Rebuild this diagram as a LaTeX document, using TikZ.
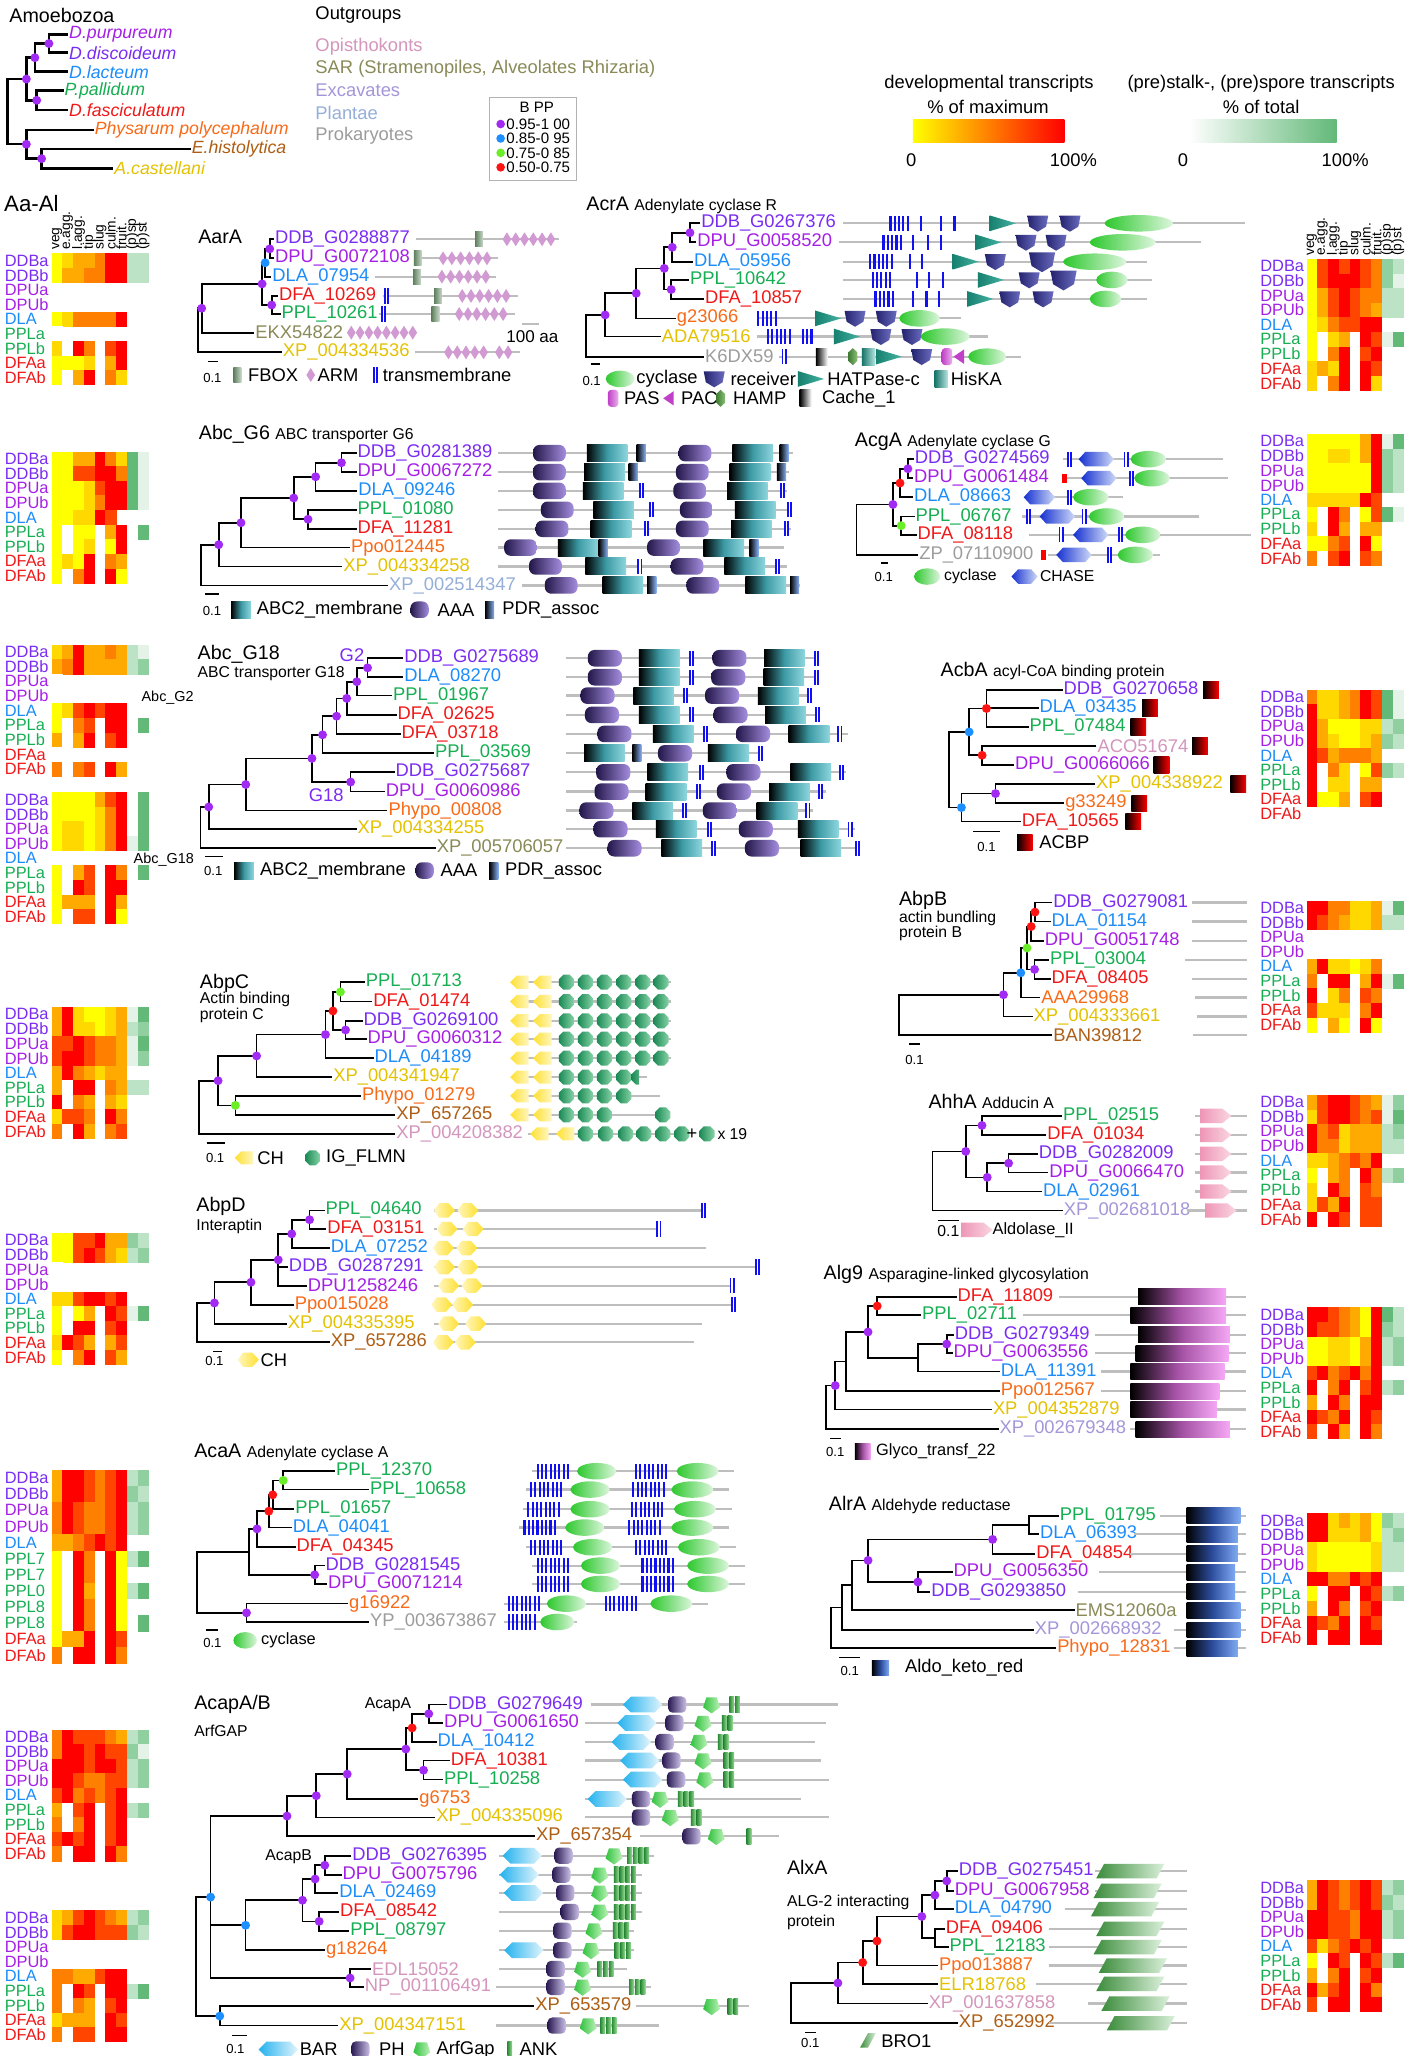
\documentclass[tikz,border=0pt]{standalone}
\usepackage{fontspec}
\setmainfont{Liberation Sans}
\usetikzlibrary{positioning}

% taxon colours
\definecolor{cDDB}{HTML}{7B2CF2}
\definecolor{cDPU}{HTML}{A51FE6}
\definecolor{cDLA}{HTML}{1C8CFA}
\definecolor{cPPL}{HTML}{16AE52}
\definecolor{cDFA}{HTML}{F01818}
\definecolor{cPPO}{HTML}{F86A18}
\definecolor{cEHI}{HTML}{AE5E14}
\definecolor{cACA}{HTML}{E4C200}
\definecolor{cOPI}{HTML}{D496BC}
\definecolor{cSAR}{HTML}{8A8A58}
\definecolor{cEXC}{HTML}{A496D8}
\definecolor{cPLA}{HTML}{95AFD8}
\definecolor{cPRO}{HTML}{9C9C9C}
% support dots
\definecolor{dP}{HTML}{A22BF4}
\definecolor{dB}{HTML}{1E8FFF}
\definecolor{dG}{HTML}{6AEE28}
\definecolor{dR}{HTML}{FF1414}
% heat map
\definecolor{hY}{HTML}{FFFF00}
\definecolor{hG}{HTML}{FFD800}
\definecolor{hA}{HTML}{FFAA00}
\definecolor{hO}{HTML}{FF7F00}
\definecolor{hD}{HTML}{FF4500}
\definecolor{hR}{HTML}{FF0000}
\definecolor{hN}{HTML}{FFFFFF}
\definecolor{gA}{HTML}{62B978}
\definecolor{gB}{HTML}{8FCFA0}
\definecolor{gC}{HTML}{BCE3C6}
\definecolor{gD}{HTML}{E4F2E7}
% domains
\definecolor{bkgray}{HTML}{BEBEBE}
\definecolor{tmb}{HTML}{1010F0}
\definecolor{fbL}{HTML}{5E7E5E}
\definecolor{fbR}{HTML}{C8D8C8}
\definecolor{armc}{HTML}{D29AD2}
\definecolor{cycL}{HTML}{2CC82C}
\definecolor{cycR}{HTML}{DDF6DD}
\definecolor{recL}{HTML}{22226E}
\definecolor{recR}{HTML}{6C6CC0}
\definecolor{hatL}{HTML}{17806F}
\definecolor{hatR}{HTML}{45B3A3}
\definecolor{hisL}{HTML}{167468}
\definecolor{hisR}{HTML}{B5E3E0}
\definecolor{pasL}{HTML}{C040C8}
\definecolor{pasR}{HTML}{EBB0EB}
\definecolor{hampL}{HTML}{3E7A30}
\definecolor{hampR}{HTML}{8CC07C}
\definecolor{abcM}{HTML}{3C9AA4}
\definecolor{abcR}{HTML}{8ED6DE}
\definecolor{aaaL}{HTML}{221648}
\definecolor{aaaR}{HTML}{A58EE0}
\definecolor{pdrR}{HTML}{8AB4F8}
\definecolor{chL}{HTML}{1530D0}
\definecolor{chR}{HTML}{D0DBF8}
\definecolor{chyL}{HTML}{FFE030}
\definecolor{chyR}{HTML}{FFF6BE}
\definecolor{igL}{HTML}{1B8A55}
\definecolor{igR}{HTML}{86D2A6}
\definecolor{aldL}{HTML}{EE96B6}
\definecolor{aldR}{HTML}{FAD6E2}
\definecolor{glyM}{HTML}{A653A6}
\definecolor{glyR}{HTML}{F5A8F5}
\definecolor{akrM}{HTML}{2C4C9C}
\definecolor{akrR}{HTML}{80AAF4}
\definecolor{barL}{HTML}{25B2EE}
\definecolor{barR}{HTML}{E2F5FD}
\definecolor{phL}{HTML}{291952}
\definecolor{phR}{HTML}{CBC0E8}
\definecolor{arfL}{HTML}{30C23E}
\definecolor{arfR}{HTML}{BDF2B8}
\definecolor{ankL}{HTML}{2C8A38}
\definecolor{ankR}{HTML}{92DA92}
\definecolor{broL}{HTML}{3C8C3C}
\definecolor{broR}{HTML}{DAF0DA}

\tikzset{
  tr/.style={line width=1.3pt},
  bk/.style={draw=bkgray,line width=1.7pt},
  lf/.style={anchor=west,inner sep=0.6pt,font=\fontsize{14}{16}\selectfont},
  sp/.style={anchor=west,inner sep=0.6pt,font=\fontsize{13.5}{15}\selectfont\itshape},
  ttl/.style={anchor=west,inner sep=0pt,font=\fontsize{15}{17}\selectfont},
  sub/.style={anchor=west,inner sep=0pt,font=\fontsize{12}{14}\selectfont},
  hl/.style={anchor=west,inner sep=0pt,font=\fontsize{12.5}{14}\selectfont},
  hh/.style={rotate=90,anchor=west,inner sep=0.3pt,font=\fontsize{10.5}{11}\selectfont},
  sc/.style={inner sep=0pt,font=\fontsize{10}{11}\selectfont},
  lg/.style={anchor=west,inner sep=0pt,font=\fontsize{14}{16}\selectfont},
}

% support value dot
\newcommand{\bpp}[2]{\fill[#1] (#2) circle (3.4);}
% heat map: x, y top, row height, rows
\newcommand{\hmapH}[4]{%
  \foreach \rw [count=\j] in {#4} {%
    \foreach \cc [count=\i] in \rw {%
      \fill[\cc] ({#1+(\i-1)*8.2},{#2+(\j-1)*#3}) rectangle ++(8.5,#3+0.3);%
    }%
  }%
}
\newcommand{\hmap}[3]{\hmapH{#1}{#2}{11.15}{#3}}
\newcommand{\hlab}[3]{%
  \foreach \n/\cl [count=\j] in {DDBa/cDDB,DDBb/cDDB,DPUa/cDPU,DPUb/cDPU,DLA/cDLA,PPLa/cPPL,PPLb/cPPL,DFAa/cDFA,DFAb/cDFA}
    \node[hl,text=\cl] (#3\j) at (#1,{#2+(\j-0.5)*11.15}) {\n};
}
\newcommand{\hhead}[3]{%
  \foreach \h [count=\i] in {veg,e.agg.,l.agg.,tip,slug,culm.,fruit.,(p)sp,(p)st}
    \node[hh] (#3\i) at ({#1+(\i-0.5)*8.2},#2) {\h};
}
% domain glyphs
\newcommand{\dTM}[2]{\fill[tmb] ({#1-1.9},{#2-5.8}) rectangle ({#1+1.9},{#2+5.8}); \fill[white] ({#1-0.5},{#2-5.8}) rectangle ({#1+0.5},{#2+5.8});}
\newcommand{\dTb}[2]{\fill[tmb] ({#1-0.8},{#2-5.8}) rectangle ({#1+0.8},{#2+5.8});}
\newcommand{\tmcl}[3]{\foreach \k in {1,...,#2} {\dTb{#1+3.3*\k-3.3}{#3}}}
\newcommand{\dFB}[2]{\shade[left color=fbL,right color=fbR] ({#1-3},{#2-5.8}) rectangle ({#1+3},{#2+5.8});}
\newcommand{\dARM}[2]{\fill[armc,shift={(#1,#2)}] (-3.3,0) -- (0,-5.3) -- (3.3,0) -- (0,5.3) -- cycle;}
\newcommand{\armrow}[3]{\foreach \k in {1,...,#2} {\dARM{#1+6.7*\k-6.7}{#3}}}
\newcommand{\dCYC}[3]{\shade[left color=cycL,right color=cycR] (#1,#2) ellipse [x radius={#3/2},y radius=6.3];}
\newcommand{\dREC}[3]{\shade[left color=recL,right color=recR,shift={(#1,#2)},scale=#3] (-0.5,-0.36) -- (0.5,-0.36) -- (0.4,0.16) -- (0,0.4) -- (-0.4,0.16) -- cycle;}
\newcommand{\dHAT}[2]{\shade[left color=hatL,right color=hatR,shift={(#1,#2)}] (-10,-6) -- (10,0) -- (-10,6) -- cycle;}
\newcommand{\dHIS}[2]{\shade[left color=hisL,right color=hisR] ({#1-5},{#2-6.5}) rectangle ({#1+5},{#2+6.5});}
\newcommand{\dPAS}[2]{\shade[left color=pasL,right color=pasR,rounded corners=2.5pt] ({#1-4},{#2-6.5}) rectangle ({#1+4},{#2+6.5});}
\newcommand{\dPAC}[2]{\fill[pasL,shift={(#1,#2)}] (4,-5.5) -- (-4,0) -- (4,5.5) -- cycle;}
\newcommand{\dHAMP}[2]{\shade[left color=hampL,right color=hampR,shift={(#1,#2)}] (0,-6.5) -- (3.5,-3.2) -- (3.5,3.2) -- (0,6.5) -- (-3.5,3.2) -- (-3.5,-3.2) -- cycle;}
\newcommand{\dCAC}[2]{\shade[left color=black,right color=white] ({#1-4.5},{#2-6.5}) rectangle ({#1+4.5},{#2+6.5});}
\newcommand{\dABC}[3]{\shade[left color=black,right color=abcR,middle color=abcM] ({#1-#3/2},{#2-6.5}) rectangle ({#1+#3/2},{#2+6.5});}
\newcommand{\dAAA}[3]{\shade[left color=aaaL,right color=aaaR,rounded corners=5pt] ({#1-#3/2},{#2-6.3}) rectangle ({#1+#3/2},{#2+6.3});}
\newcommand{\dPDR}[2]{\shade[left color=black,right color=pdrR] ({#1-3.5},{#2-6.5}) rectangle ({#1+3.5},{#2+6.5});}
\newcommand{\dCHASE}[3]{\shade[left color=chL,right color=chR,shift={(#1,#2)}] ({-#3/2},0) -- ({-#3/2+5},-5.5) -- ({#3/2-5},-5.5) -- ({#3/2},0) -- ({#3/2-5},5.5) -- ({-#3/2+5},5.5) -- cycle;}
\newcommand{\dACBP}[2]{\shade[left color=black,right color=red] ({#1-6},{#2-6.3}) rectangle ({#1+6},{#2+6.3});}
\newcommand{\dCHl}[2]{\shade[left color=chyL,right color=chyR,shift={(#1,#2)}] (-7,0) -- (-2,-5) -- (7,-5) -- (7,5) -- (-2,5) -- cycle;}
\newcommand{\dCHr}[2]{\shade[left color=chyR,right color=chyL,shift={(#1,#2)}] (-8,0) -- (-4,-5.5) -- (3,-5.5) -- (8,0) -- (3,5.5) -- (-4,5.5) -- cycle;}
\newcommand{\dIG}[2]{\shade[left color=igL,right color=igR,shift={(#1,#2)},scale=0.88] (6.5,2.7) -- (2.7,6.5) -- (-2.7,6.5) -- (-6.5,2.7) -- (-6.5,-2.7) -- (-2.7,-6.5) -- (2.7,-6.5) -- (6.5,-2.7) -- cycle;}
\newcommand{\dALD}[2]{\shade[left color=aldL,right color=aldR,shift={(#1,#2)}] (-12,-5.5) -- (5,-5.5) -- (12,0) -- (5,5.5) -- (-12,5.5) -- cycle;}
\newcommand{\dGLY}[3]{\shade[left color=black,right color=glyR,middle color=glyM] (#1,{#3-6}) rectangle (#2,{#3+6});}
\newcommand{\dAKR}[3]{\shade[left color=black,right color=akrR,middle color=akrM] (#1,{#3-6}) rectangle (#2,{#3+6});}
\newcommand{\dBAR}[2]{\shade[left color=barL,right color=barR,shift={(#1,#2)}] (-15,0) -- (-9,-6) -- (9,-6) -- (15,0) -- (9,6) -- (-9,6) -- cycle;}
\newcommand{\dPH}[2]{\shade[left color=phL,right color=phR,rounded corners=3.5pt] ({#1-7},{#2-6.2}) rectangle ({#1+7},{#2+6.2});}
\newcommand{\dARF}[2]{\shade[left color=arfL,right color=arfR,shift={(#1,#2)},scale=0.75] (0,9) -- (8.6,2.8) -- (5.3,-7.3) -- (-5.3,-7.3) -- (-8.6,2.8) -- cycle;}
\newcommand{\dANK}[2]{\shade[left color=ankL,right color=ankR] ({#1-1.8},{#2-6}) rectangle ({#1+1.8},{#2+6});}
\newcommand{\dBRO}[3]{\shade[left color=broL,right color=broR,shift={(#1,#2)}] ({-#3/2},5.5) -- ({-#3/2+6},-5.5) -- ({#3/2},-5.5) -- ({#3/2-6},5.5) -- cycle;}

\begin{document}
\begin{tikzpicture}[x=1pt,y=-1pt]
  \fill[white] (0,0) rectangle (1085,1568);
  \useasboundingbox (0,0) rectangle (1085,1568);

  % ---------- species tree ----------
  \node[ttl] (amoe) at (7,12) {Amoebozoa};
  \node[sp,text=cDPU] (spc1) at (52,26.2) {D.purpureum};
  \node[sp,text=cDDB] (spc2) at (52,40.2) {D.discoideum};
  \node[sp,text=cDLA] (spc3) at (52,54.7) {D.lacteum};
  \node[sp,text=cPPL] (spc4) at (48.5,69.1) {P.pallidum};
  \node[sp,text=cDFA] (spc5) at (52,83.9) {D.fasciculatum};
  \node[sp,text=cPPO] (spc6) at (71.5,99.1) {Physarum polycephalum};
  \node[sp,text=cEHI] (spc7) at (145.5,113.6) {E.histolytica};
  \node[sp,text=cACA] (spc8) at (86.5,128.4) {A.castellani};
  \coordinate (spcA) at (37.3,33.2);
  \coordinate (spcB) at (26.6,44);
  \coordinate (spcC) at (28,76.5);
  \coordinate (spcD) at (20.1,60.3);
  \coordinate (spcE) at (31.7,121);
  \coordinate (spcF) at (20.1,110);
  \coordinate (spcR) at (5.6,85.2);
  \begin{scope}[line width=1.9pt]
    \draw (spc1.west) -| (spcA) |- (spc2.west);
    \draw (spcA) -| (spcB) |- (spc3.west);
    \draw (spc4.west) -| (spcC) |- (spc5.west);
    \draw (spcB) -| (spcD) |- (spcC);
    \draw (spc7.west) -| (spcE) |- (spc8.west);
    \draw (spc6.west) -| (spcF) |- (spcE);
    \draw (spcD) -| (spcR) |- (spcF);
  \end{scope}
  \foreach \p in {spcA,spcB,spcC,spcD,spcE,spcF} {\bpp{dP}{\p}}

  \node[lg] (outg) at (240.4,11.4) {Outgroups};
  \node[lg,text=cOPI] (outO) at (240.4,35.6) {Opisthokonts};
  \node[lg,text=cSAR] (outS) at (240.4,52.1) {SAR (Stramenopiles, Alveolates Rhizaria)};
  \node[lg,text=cEXC] (outE) at (240.4,69.1) {Excavates};
  \node[lg,text=cPLA] (outP) at (240.4,85.9) {Plantae};
  \node[lg,text=cPRO] (outK) at (240.4,103.5) {Prokaryotes};

  \draw[gray!60,line width=0.8pt] (373.4,74.2) rectangle (439.7,137.3);
  \node[sc,font=\fontsize{11.5}{12}\selectfont] (bppT) at (409.4,81.9) {B PP};
  \foreach \cl/\tx/\yy [count=\i] in {dP/0.95-1 00/94.6,dB/0.85-0 95/105.6,dG/0.75-0 85/116.6,dR/0.50-0.75/127.6} {
    \fill[\cl] (381.8,\yy) circle (3.3);
    \node[lg,font=\fontsize{11.5}{12}\selectfont] (bpp\i) at (386,\yy) {\tx};
  }

  % colour bars
  \node[lg,anchor=center] (devT) at (754.3,63.5) {developmental transcripts};
  \node[lg,anchor=center] (devS) at (753.5,81.3) {\% of maximum};
  \shade[left color=yellow,right color=red,middle color=orange] (696.2,91) rectangle (811.8,108.8);
  \node[lg,anchor=center] (dev0) at (694.9,122) {0};
  \node[lg,anchor=center] (dev1) at (818.6,122) {100\%};
  \node[lg,anchor=center] (cllT) at (961.8,63.5) {(pre)stalk-, (pre)spore transcripts};
  \node[lg,anchor=center] (cllS) at (961.8,81.3) {\% of total};
  \shade[left color=white,right color=gA] (906.2,91) rectangle (1019.3,108.8);
  \node[lg,anchor=center] (cll0) at (902.1,122) {0};
  \node[lg,anchor=center] (cll1) at (1025.9,122) {100\%};

  \node[ttl,font=\fontsize{17}{19}\selectfont] (aaal) at (3,155) {Aa-Al};

  % ---------- left heat maps ----------
  \hhead{39.4}{191}{hdL}
  \hlab{3.5}{193.2}{hmA}
  \hmap{39.4}{193.2}{{hY,hG,hA,hA,hO,hR,hR,gC,gC},{hY,hA,hA,hO,hO,hR,hR,gC,gC},{hN},{hN},{hY,hG,hO,hO,hO,hO,hR},{hN},{hG,hN,hR,hO,hN,hD,hR},{hY,hY,hY,hG,hN,hA,hR},{hY,hN,hA,hR,hN,hO,hG}}
  \hlab{3.5}{344.4}{hmB}
  \hmap{39.4}{344.4}{{hY,hY,hA,hA,hR,hO,hG,gA,gD},{hY,hY,hD,hD,hR,hR,hO,gA,gD},{hY,hY,hY,hG,hD,hR,hR,gA,gD},{hY,hY,hY,hG,hO,hR,hR,gA,gD},{hY,hY,hG,hG,hR,hD},{hY,hN,hY,hY,hN,hA,hR,hN,gA},{hY,hN,hY,hG,hN,hY,hR},{hY,hG,hY,hR,hN,hO,hA},{hY,hN,hO,hR,hN,hR,hY}}
  \hlab{3.5}{491.8}{hmC}
  \hmap{39.4}{491.8}{{hG,hA,hR,hA,hA,hO,hA,gC,gD},{hA,hO,hR,hA,hA,hA,hA,gC,gB},{hN},{hN},{hY,hG,hD,hR,hD,hR,hR},{hY,hN,hO,hD,hN,hR,hR,hN,gA},{hA,hN,hA,hR,hN,hD,hR},{hN},{hO,hN,hO,hD,hN,hR,hA}}
  \node[sub,font=\fontsize{11}{12}\selectfont] (abcG2) at (107.8,532) {Abc\_G2};
  \hlab{3.5}{604.2}{hmD}
  \hmap{39.4}{604.2}{{hY,hY,hY,hY,hA,hD,hR,hN,gA},{hY,hY,hY,hY,hG,hO,hR,hN,gA},{hY,hG,hG,hY,hG,hO,hR,hN,gA},{hY,hG,hG,hY,hG,hO,hR,gD,gA},{hN},{hY,hN,hA,hD,hN,hR,hO,hN,gA},{hY,hN,hR,hD,hN,hR,hR},{hY,hA,hA,hA,hN,hR,hA},{hY,hN,hD,hD,hN,hR,hY}}
  \node[sub,font=\fontsize{11}{12}\selectfont] (abcG18) at (101.8,655.8) {Abc\_G18};
  \hlab{3.5}{768}{hmE}
  \hmap{39.4}{768}{{hA,hR,hG,hY,hY,hG,hA,gD,gA},{hA,hR,hG,hG,hY,hG,hA,gC,gB},{hD,hD,hR,hD,hO,hO,hA,gD,gA},{hD,hR,hR,hD,hO,hO,hA,gD,gB},{hA,hR,hO,hA,hG,hA,hA},{hA,hN,hR,hR,hN,hO,hA,gC,gC},{hR,hN,hO,hA,hN,hA,hG},{hG,hD,hD,hO,hN,hR,hO},{hO,hN,hR,hA,hN,hO,hD}}
  \hlab{3.5}{940.4}{hmF}
  \hmap{39.4}{940.4}{{hY,hY,hD,hD,hR,hA,hA,gB,gC},{hY,hY,hD,hR,hD,hA,hG,gC,gB},{hN},{hN},{hG,hG,hD,hR,hR,hD,hR},{hY,hN,hY,hA,hN,hR,hD,gD,gA},{hY,hN,hR,hR,hN,hD,hR},{hG,hR,hD,hA,hN,hA,hD},{hY,hN,hO,hR,hN,hD,hA}}
  \foreach \n/\cl [count=\j] in {DDBa/cDDB,DDBb/cDDB,DPUa/cDPU,DPUb/cDPU,DLA/cDLA,PPL7/cPPL,PPL7/cPPL,PPL0/cPPL,PPL8/cPPL,PPL8/cPPL,DFAa/cDFA,DFAb/cDFA}
    \node[hl,text=\cl] (hmG\j) at (3.5,{1121+(\j-0.5)*12.3}) {\n};
  \hmapH{39.4}{1121}{12.3}{{hA,hR,hR,hD,hO,hD,hR,gC,gB},{hA,hR,hR,hD,hO,hD,hR,gB,gC},{hO,hR,hD,hO,hO,hD,hR,gC,gB},{hO,hR,hD,hO,hO,hD,hR,gC,gB},{hA,hA,hO,hD,hR,hD,hR},{hY,hN,hR,hO,hN,hR,hY,gC,gA},{hY,hN,hR,hO,hN,hR,hY},{hY,hN,hR,hA,hN,hR,hY,gC,gA},{hY,hN,hR,hO,hN,hR,hY},{hY,hN,hR,hO,hN,hR,hY,hN,gA},{hY,hA,hA,hR,hN,hR,hD},{hO,hN,hR,hR,hN,hR,hO}}
  \hlab{3.5}{1319}{hmH}
  \hmap{39.4}{1319}{{hO,hR,hD,hD,hD,hO,hA,gC,gB},{hO,hR,hR,hD,hR,hD,hD,gB,gD},{hR,hR,hR,hD,hR,hR,hD,gC,gB},{hR,hR,hD,hO,hO,hD,hD,gC,gB},{hD,hR,hO,hD,hO,hD,hR},{hA,hN,hD,hR,hN,hD,hR,gC,gB},{hO,hN,hO,hR,hN,hD,hR},{hD,hR,hD,hR,hN,hD,hR},{hO,hN,hR,hR,hN,hR,hO}}
  \hlab{3.5}{1457}{hmI}
  \hmap{39.4}{1457}{{hG,hA,hD,hR,hD,hO,hA,gC,gB},{hG,hD,hR,hR,hD,hD,hD,gB,gC},{hN},{hN},{hO,hO,hA,hA,hD,hR,hR},{hO,hN,hR,hD,hN,hR,hR,gC,gA},{hO,hN,hO,hA,hN,hD,hR},{hG,hA,hA,hA,hN,hR,hD},{hO,hN,hD,hD,hN,hR,hR}}

  % ---------- right heat maps ----------
  \hhead{996.4}{195.5}{hdR}
  \hlab{961}{197.5}{hmJ}
  \hmap{996.4}{197.5}{{hY,hD,hR,hD,hR,hD,hO,gB,gC},{hY,hD,hR,hR,hR,hD,hO,gB,gD},{hY,hA,hD,hR,hD,hO,hO,gC,gC},{hY,hA,hD,hR,hD,hO,hA,gC,gC},{hY,hG,hO,hD,hD,hR,hR},{hY,hN,hG,hA,hN,hR,hD,gD,gA},{hY,hN,hO,hR,hN,hD,hR},{hG,hA,hG,hR,hN,hR,hD},{hG,hN,hO,hR,hN,hR,hG}}
  \hlab{961}{331}{hmK}
  \hmap{996.4}{331}{{hY,hY,hY,hY,hY,hA,hR,gD,gA},{hY,hY,hG,hG,hY,hA,hR,gB,gC},{hY,hY,hY,hY,hY,hY,hR,gB,gC},{hY,hY,hY,hY,hY,hY,hR,gB,gC},{hG,hG,hG,hG,hG,hR,hD},{hY,hN,hR,hO,hN,hY,hD,gA,gD},{hG,hN,hR,hA,hN,hA,hA},{hY,hY,hO,hD,hN,hR,hY},{hO,hN,hD,hR,hN,hD,hO}}
  \hlab{961}{526}{hmL}
  \hmap{996.4}{526}{{hO,hG,hG,hA,hO,hR,hD,gA,gD},{hR,hG,hG,hA,hO,hR,hD,gA,gD},{hR,hA,hY,hY,hY,hG,hG,gC,gB},{hR,hA,hG,hY,hY,hG,hA,gB,gC},{hR,hD,hA,hO,hO,hO,hA},{hR,hN,hO,hG,hN,hY,hD,gB,gC},{hR,hN,hG,hG,hN,hA,hA},{hR,hY,hY,hA,hN,hD,hR},{hN}}
  \hlab{961}{686.8}{hmM}
  \hmap{996.4}{686.8}{{hR,hR,hO,hO,hG,hG,hA,gD,gA},{hR,hD,hO,hA,hG,hG,hA,gC,gC},{hN},{hN},{hA,hR,hG,hG,hY,hG,hO},{hO,hN,hR,hR,hN,hA,hR,gD,gA},{hR,hN,hG,hO,hN,hD,hO},{hD,hG,hG,hG,hN,hO,hR},{hY,hN,hA,hY,hN,hR,hY}}
  \hlab{961}{835}{hmN}
  \hmap{996.4}{835}{{hA,hD,hR,hR,hD,hO,hA,gD,gB},{hG,hD,hR,hR,hD,hO,hD,gD,gA},{hR,hO,hD,hG,hA,hA,hA,gC,gB},{hR,hO,hO,hG,hA,hA,hA,gC,gC},{hG,hG,hA,hO,hD,hO,hR},{hY,hN,hA,hO,hN,hR,hO,gC,gB},{hG,hN,hR,hO,hN,hD,hO},{hG,hD,hA,hR,hN,hD,hD},{hR,hN,hR,hD,hN,hD,hD}}
  \hlab{961}{997}{hmO}
  \hmap{996.4}{997}{{hR,hR,hD,hO,hA,hY,hR,gA,gC},{hR,hD,hD,hO,hA,hY,hR,gB,gC},{hY,hY,hG,hG,hY,hA,hR,gC,gB},{hY,hY,hG,hG,hY,hA,hR,gC,gB},{hD,hR,hO,hD,hR,hO,hR},{hR,hN,hO,hR,hN,hD,hR,gC,gB},{hA,hN,hR,hO,hN,hR,hR},{hR,hD,hO,hR,hN,hR,hD},{hD,hN,hR,hA,hN,hR,hO}}
  \hlab{961}{1154}{hmP}
  \hmap{996.4}{1154}{{hR,hR,hG,hA,hG,hA,hY,gB,gC},{hR,hR,hG,hG,hG,hA,hY,gC,gB},{hG,hY,hY,hY,hY,hY,hG,gC,gC},{hG,hY,hY,hY,hY,hY,hG,gC,gC},{hR,hR,hO,hO,hR,hD,hR},{hY,hN,hR,hR,hN,hR,hD,gC,gB},{hA,hN,hR,hO,hN,hD,hR},{hR,hD,hO,hR,hN,hR,hD},{hR,hN,hR,hR,hN,hR,hR}}
  \hlab{961}{1434}{hmQ}
  \hmap{996.4}{1434}{{hA,hR,hD,hO,hD,hR,hD,gC,gB},{hA,hR,hD,hO,hD,hR,hD,gB,gC},{hR,hR,hD,hD,hO,hR,hR,gC,gB},{hR,hR,hD,hD,hO,hR,hR,gC,gB},{hD,hG,hO,hD,hR,hD,hR},{hY,hN,hR,hD,hN,hR,hD,gC,gA},{hA,hN,hO,hR,hN,hD,hR},{hR,hA,hD,hR,hN,hR,hO},{hD,hN,hR,hR,hN,hR,hR}}

  % ---------- AarA ----------
  \node[ttl] (aarT) at (151,180.5) {AarA};
  \node[lf,text=cDDB] (aar1) at (209,182.5) {DDB\_G0288877};
  \node[lf,text=cDPU] (aar2) at (209,197) {DPU\_G0072108};
  \node[lf,text=cDLA] (aar3) at (207,211) {DLA\_07954};
  \node[lf,text=cDFA] (aar4) at (212,225.7) {DFA\_10269};
  \node[lf,text=cPPL] (aar5) at (214,239.5) {PPL\_10261};
  \node[lf,text=cSAR] (aar6) at (194,253.7) {EKX54822};
  \node[lf,text=cACA] (aar7) at (215,268.7) {XP\_004334536};
  \coordinate (aarE) at (205.7,189.8);
  \coordinate (aarC) at (202.2,200.4);
  \coordinate (aarD) at (207.2,232.6);
  \coordinate (aarA) at (199.9,216.5);
  \coordinate (aarB) at (153.8,235.1);
  \coordinate (aarR) at (151.2,251.9);
  \draw[tr] (aar1.west) -| (aarE) |- (aar2.west);
  \draw[tr] (aarE) -| (aarC) |- (aar3.west);
  \draw[tr] (aar4.west) -| (aarD) |- (aar5.west);
  \draw[tr] (aarC) -| (aarA) |- (aarD);
  \draw[tr] (aarA) -| (aarB) |- (aar6.west);
  \draw[tr] (aarB) -| (aarR) |- (aar7.west);
  \bpp{dP}{aarE} \bpp{dB}{aarC} \bpp{dP}{aarD} \bpp{dP}{aarA} \bpp{dP}{aarB}
  \draw[bk] (317.5,182.5) -- (426.6,182.5); \dFB{365.3}{182.5} \armrow{386.6}{6}{182.5}
  \draw[bk] (316.6,197) -- (380,197); \dFB{318.6}{197} \armrow{337.9}{6}{197}
  \draw[bk] (286,211) -- (378,211); \dFB{318}{211} \armrow{337}{6}{211}
  \draw[bk] (291.8,225.7) -- (394.8,225.7); \dTM{294.7}{225.7} \dFB{334}{225.7} \armrow{352.5}{6}{225.7}
  \draw[bk] (289,239.5) -- (392.5,239.5); \dTM{292.7}{239.5} \dFB{332}{239.5} \armrow{350.2}{6}{239.5}
  \armrow{267.9}{8}{253.7}
  \draw[bk] (316.6,268.7) -- (396.8,268.7); \armrow{342}{5}{268.7} \armrow{380.8}{2}{268.7}
  \draw[bk] (398.3,247) -- (411.4,247);
  \node[lg,anchor=center,font=\fontsize{13}{14}\selectfont] (aarU) at (406,256.5) {100 aa};
  \draw[tr] (159,275.8) -- (166.3,275.8);
  \node[sc] (aarS) at (162,288) {0.1};
  \dFB{181}{286} \node[lg] (aarL1) at (189,286) {FBOX};
  \dARM{237}{286} \node[lg] (aarL2) at (242,286) {ARM};
  \dTM{286.6}{286} \node[lg] (aarL3) at (291.8,286) {transmembrane};

  % ---------- AcrA ----------
  \node[ttl] (acrT) at (447,156.3) {AcrA {\fontsize{12}{14}\selectfont Adenylate cyclase R}};
  \node[lf,text=cDDB] (acr1) at (534,170.3) {DDB\_G0267376};
  \node[lf,text=cDPU] (acr2) at (531,184.8) {DPU\_G0058520};
  \node[lf,text=cDLA] (acr3) at (528.5,199.6) {DLA\_05956};
  \node[lf,text=cPPL] (acr4) at (525.5,213.5) {PPL\_10642};
  \node[lf,text=cDFA] (acr5) at (537,228) {DFA\_10857};
  \node[lf,text=cPPO] (acr6) at (515.5,242.8) {g23066};
  \node[lf,text=cACA] (acr7) at (504,256.7) {ADA79516};
  \node[lf,text=cPRO] (acr8) at (537,272) {K6DX59};
  \coordinate (acrA) at (526.2,177.5);
  \coordinate (acrB) at (512.7,188.6);
  \coordinate (acrC) at (511.9,220.8);
  \coordinate (acrD) at (506.6,204.7);
  \coordinate (acrE) at (485.2,223.7);
  \coordinate (acrF) at (461.5,240.2);
  \coordinate (acrR) at (447.1,256.1);
  \draw[tr] (acr1.west) -| (acrA) |- (acr2.west);
  \draw[tr] (acrA) -| (acrB) |- (acr3.west);
  \draw[tr] (acr4.west) -| (acrC) |- (acr5.west);
  \draw[tr] (acrB) -| (acrD) |- (acrC);
  \draw[tr] (acrD) -| (acrE) |- (acr6.west);
  \draw[tr] (acrE) -| (acrF) |- (acr7.west);
  \draw[tr] (acrF) -| (acrR) |- (acr8.west);
  \foreach \p in {acrA,acrB,acrC,acrD,acrE,acrF} {\bpp{dP}{\p}}
  \draw[bk] (643.1,170.3) -- (949.7,170.3); \tmcl{679.1}{5}{170.3} \dTb{702.5}{170.3} \dTb{717.7}{170.3} \dTb{727.9}{170.3}
  \dHAT{764.8}{170.3} \dREC{791.4}{170.3}{16} \dREC{816}{170.3}{16} \dCYC{868.5}{170.3}{52}
  \draw[bk] (640.2,184.8) -- (915.7,184.8); \tmcl{673.8}{5}{184.8} \dTb{696.4}{184.8} \dTb{707.8}{184.8} \dTb{717.7}{184.8}
  \dHAT{753.8}{184.8} \dREC{782.5}{184.8}{16} \dREC{805.4}{184.8}{16} \dCYC{856.2}{184.8}{50}
  \draw[bk] (643.1,199.6) -- (874.7,199.6); \tmcl{663.6}{6}{199.6} \dTb{694.3}{199.6} \dTb{703.3}{199.6}
  \dHAT{736.5}{199.6} \dREC{759.1}{199.6}{16} \dREC{794.7}{199.6}{20} \dCYC{834.9}{199.6}{48}
  \draw[bk] (643.1,213.5) -- (878.8,213.5); \tmcl{665.6}{5}{213.5} \dTb{699.6}{213.5} \dTb{708.6}{213.5} \dTb{718.9}{213.5}
  \dHAT{755.8}{213.5} \dREC{784.9}{213.5}{16} \dREC{811.1}{213.5}{20} \dCYC{848}{213.5}{24}
  \draw[bk] (643.1,228) -- (874.7,228); \tmcl{667.7}{5}{228} \dTb{696.4}{228} \dTb{706.6}{228} \dTb{716}{228}
  \dHAT{747.6}{228} \dREC{770.1}{228}{16} \dREC{795.5}{228}{16} \dCYC{843.1}{228}{24}
  \draw[bk] (577.5,242.8) -- (733.2,242.8); \tmcl{578.3}{5}{242.8}
  \dHAT{631.6}{242.8} \dREC{652.1}{242.8}{16} \dREC{675.9}{242.8}{16} \dCYC{701.3}{242.8}{31}
  \draw[bk] (577.5,256.7) -- (753.7,256.7); \tmcl{585.7}{6}{256.7} \tmcl{612.3}{3}{256.7}
  \dHAT{646}{256.7} \dREC{671.8}{256.7}{16} \dREC{695.5}{256.7}{16} \dCYC{720.9}{256.7}{37}
  \draw[bk] (593.9,272) -- (778.3,272); \dTM{598}{272} \dCAC{626.7}{272} \dHAMP{650.4}{272} \dHIS{662.3}{272}
  \dHAT{677.9}{272} \dREC{702.9}{272}{16} \dPAS{722.2}{272} \dPAC{731.2}{272} \dCYC{752.9}{272}{29}
  \draw[tr] (450.4,277.6) -- (457.8,277.6);
  \node[sc] (acrS) at (451.2,290.3) {0.1};
  \dCYC{473}{289}{22} \node[lg] (acrL1) at (485.2,289) {cyclase};
  \dREC{544.7}{289}{16} \node[lg] (acrL2) at (557,289) {receiver};
  \dHAT{618.5}{289} \node[lg] (acrL3) at (630.8,289) {HATPase-c};
  \dHIS{717.7}{289} \node[lg] (acrL4) at (725,289) {HisKA};
  \dPAS{467.6}{303.8} \node[lg] (acrL5) at (475.8,303.8) {PAS};
  \dPAC{509.8}{303.8} \node[lg] (acrL6) at (519.3,303.8) {PAC};
  \dHAMP{549.6}{303.8} \node[lg] (acrL7) at (559,303.8) {HAMP};
  \dCAC{614.4}{303.8} \node[lg] (acrL8) at (626.7,303.8) {Cache\_1};

  % ---------- Abc_G6 ----------
  \node[ttl] (g6T) at (151.5,331.6) {Abc\_G6 {\fontsize{12}{14}\selectfont ABC transporter G6}};
  \node[lf,text=cDDB] (g61) at (272,345.6) {DDB\_G0281389};
  \node[lf,text=cDPU] (g62) at (272,360.1) {DPU\_G0067272};
  \node[lf,text=cDLA] (g63) at (272.5,374.3) {DLA\_09246};
  \node[lf,text=cPPL] (g64) at (272,388.8) {PPL\_01080};
  \node[lf,text=cDFA] (g65) at (272,403.3) {DFA\_11281};
  \node[lf,text=cPPO] (g66) at (267,417.6) {Ppo012445};
  \node[lf,text=cACA] (g67) at (261,432) {XP\_004334258};
  \node[lf,text=cPLA] (g68) at (296,446.5) {XP\_002514347};
  \coordinate (g6a) at (260.4,352.9);
  \coordinate (g6b) at (240.7,363.6);
  \coordinate (g6c) at (234.9,396);
  \coordinate (g6d) at (224,379.8);
  \coordinate (g6e) at (183.8,398.7);
  \coordinate (g6f) at (166.8,415.4);
  \coordinate (g6r) at (153.2,431);
  \draw[tr] (g61.west) -| (g6a) |- (g62.west);
  \draw[tr] (g6a) -| (g6b) |- (g63.west);
  \draw[tr] (g64.west) -| (g6c) |- (g65.west);
  \draw[tr] (g6b) -| (g6d) |- (g6c);
  \draw[tr] (g6d) -| (g6e) |- (g66.west);
  \draw[tr] (g6e) -| (g6f) |- (g67.west);
  \draw[tr] (g6f) -| (g6r) |- (g68.west);
  \foreach \p in {g6a,g6b,g6c,g6d,g6e,g6f} {\bpp{dP}{\p}}
  \foreach \yy/\xb/\xc/\xd/\xe/\xf/\xg/\pd/\x/\xz in {
      345.6/419/463/489/530/574/598/1/605/380,
      360.1/419/461/483/528/572/596/1/602/380,
      374.3/419/460/489/526/570/597/0/600/380,
      388.8/425/468/497/531/576/602/0/603/380,
      403.3/421/466/493/528/573/600/0/603/380,
      417.6/397/441/460/506/552/575/1/598/380,
      432/416/462/488/524/568/593/0/600/380,
      446.5/428/475/497/536/584/606/1/610/398} {
    \draw[bk] (\xz,\yy) -- (\x,\yy);
    \dAAA{\xb}{\yy}{25} \dABC{\xc}{\yy}{31} \dAAA{\xe}{\yy}{25} \dABC{\xf}{\yy}{31}
    \ifnum\pd=1 \dPDR{\xd}{\yy} \dPDR{\xg}{\yy} \else \dTM{\xd}{\yy} \dTM{\xg}{\yy} \fi
  }
  \draw[tr] (156.6,453.1) -- (166.8,453.1);
  \node[sc] (g6S) at (161.7,465.6) {0.1};
  \dABC{183.8}{465}{15} \node[lg] (g6L1) at (195.7,465) {ABC2\_membrane};
  \dAAA{320}{465}{14} \node[lg] (g6L2) at (333.6,465) {AAA};
  \dPDR{373.4}{465} \node[lg] (g6L3) at (383,465) {PDR\_assoc};

  % ---------- AcgA ----------
  \node[ttl] (acgT) at (651.8,336.7) {AcgA {\fontsize{12}{14}\selectfont Adenylate cyclase G}};
  \node[lf,text=cDDB] (acg1) at (697,350.2) {DDB\_G0274569};
  \node[lf,text=cDPU] (acg2) at (696.3,364.7) {DPU\_G0061484};
  \node[lf,text=cDLA] (acg3) at (696.3,379.2) {DLA\_08663};
  \node[lf,text=cPPL] (acg4) at (697.5,393.9) {PPL\_06767};
  \node[lf,text=cDFA] (acg5) at (699,407.9) {DFA\_08118};
  \node[lf,text=cPRO] (acg6) at (700.3,423.2) {ZP\_07110900};
  \coordinate (acgA) at (692.4,357.5);
  \coordinate (acgB) at (686.4,368.4);
  \coordinate (acgC) at (687.3,400.9);
  \coordinate (acgD) at (681,384.7);
  \coordinate (acgR) at (653.3,404);
  \draw[tr] (acg1.west) -| (acgA) |- (acg2.west);
  \draw[tr] (acgA) -| (acgB) |- (acg3.west);
  \draw[tr] (acg4.west) -| (acgC) |- (acg5.west);
  \draw[tr] (acgB) -| (acgD) |- (acgC);
  \draw[tr] (acgD) -| (acgR) |- (acg6.west);
  \bpp{dP}{acgA} \bpp{dR}{acgB} \bpp{dG}{acgC} \bpp{dP}{acgD}
  \draw[bk] (810.6,350.2) -- (932.5,350.2); \dTM{815.7}{350.2} \dCHASE{836.1}{350.2}{27} \dTM{858.8}{350.2} \dCYC{875.8}{350.2}{27}
  \fill[red] (810,361.2) rectangle (814,368.2);
  \draw[bk] (813.4,364.7) -- (936.2,364.7); \dCHASE{838.1}{364.7}{27} \dTM{863}{364.7} \dCYC{878.6}{364.7}{27}
  \draw[bk] (803.5,379.2) -- (856.5,379.2); \dCHASE{792.7}{379.2}{24} \dTM{815.4}{379.2} \dCYC{831.9}{379.2}{27}
  \draw[bk] (779.4,393.9) -- (914.1,393.9); \dTM{784.5}{393.9} \dCHASE{806.4}{393.9}{27} \dTM{826.8}{393.9} \dCYC{844}{393.9}{27}
  \draw[bk] (785.1,407.9) -- (953.8,407.9); \dTM{809.2}{407.9} \dCHASE{831.9}{407.9}{27} \dTM{854.5}{407.9} \dCYC{871.6}{407.9}{27}
  \draw[bk] (799.3,423.2) -- (884.3,423.2); \fill[red] (793.9,419.7) rectangle (797.9,426.7); \dCHASE{819.1}{423.2}{27} \dTM{846}{423.2} \dCYC{865.9}{423.2}{27}
  \draw[tr] (671.7,429.5) -- (677.4,429.5);
  \node[sc] (acgS) at (674,439.7) {0.1};
  \dCYC{707.1}{439.7}{20} \node[lg,font=\fontsize{12}{14}\selectfont] (acgL1) at (719.9,439.7) {cyclase};
  \dCHASE{781.4}{439.7}{20} \node[lg,font=\fontsize{12}{14}\selectfont] (acgL2) at (793,439.7) {CHASE};

  % ---------- Abc_G18 ----------
  \node[ttl] (g18T) at (150.6,498.7) {Abc\_G18};
  \node[sub] (g18U) at (150.6,514) {ABC transporter G18};
  \node[lg,text=cDDB] (g18G2) at (258.9,499.5) {G2};
  \node[lg,text=cDDB] (g18G18) at (235.3,606.2) {G18};
  \node[lf,text=cDDB] (gb1) at (307.5,502) {DDB\_G0275689};
  \node[lf,text=cDLA] (gb2) at (307.5,516.5) {DLA\_08270};
  \node[lf,text=cPPL] (gb3) at (299,530.5) {PPL\_01967};
  \node[lf,text=cDFA] (gb4) at (302.5,545.2) {DFA\_02625};
  \node[lf,text=cDFA] (gb5) at (305.5,559.7) {DFA\_03718};
  \node[lf,text=cPPL] (gb6) at (331,574.5) {PPL\_03569};
  \node[lf,text=cDDB] (gb7) at (301,589) {DDB\_G0275687};
  \node[lf,text=cDPU] (gb8) at (293.5,603.7) {DPU\_G0060986};
  \node[lf,text=cPPO] (gb9) at (295.5,618.2) {Phypo\_00808};
  \node[lf,text=cACA] (gb10) at (272,632.4) {XP\_004334255};
  \node[lf,text=cSAR] (gb11) at (332.3,646.9) {XP\_005706057};
  \coordinate (gba) at (280.3,509.3);
  \coordinate (gbb) at (272.1,519.9);
  \coordinate (gbc) at (264.4,532.6);
  \coordinate (gbd) at (256.7,546.2);
  \coordinate (gbe) at (246,560.4);
  \coordinate (gbg) at (267.4,596.4);
  \coordinate (gbf) at (237.9,578.4);
  \coordinate (gbh) at (187.4,598.3);
  \coordinate (gbi) at (159.2,615.4);
  \coordinate (gbr) at (152.8,631.2);
  \draw[tr] (gb1.west) -| (gba) |- (gb2.west);
  \draw[tr] (gba) -| (gbb) |- (gb3.west);
  \draw[tr] (gbb) -| (gbc) |- (gb4.west);
  \draw[tr] (gbc) -| (gbd) |- (gb5.west);
  \draw[tr] (gbd) -| (gbe) |- (gb6.west);
  \draw[tr] (gb7.west) -| (gbg) |- (gb8.west);
  \draw[tr] (gbe) -| (gbf) |- (gbg);
  \draw[tr] (gbf) -| (gbh) |- (gb9.west);
  \draw[tr] (gbh) -| (gbi) |- (gb10.west);
  \draw[tr] (gbi) -| (gbr) |- (gb11.west);
  \foreach \p in {gba,gbb,gbc,gbd,gbe,gbf,gbg,gbh,gbi} {\bpp{dP}{\p}}
  \foreach \yy/\xa/\xb/\xc/\xd/\xe/\xf/\xl in {
      502/461.3/502.8/527.2/556.3/598.2/622.6/624.7,
      516.5/461.3/502.8/527.2/555.4/597.8/622.6/624.7,
      530.5/455.7/498.5/522.9/550.7/593.5/617.5/618,
      545.2/459.1/502.8/527.2/557.1/599/623.5/624.7,
      559.7/468.6/513.5/538.3/574.3/617/640.6/647,
      589/467.7/509.2/534.9/567/618.3/641.9/645,
      603.7/466.4/507.9/532.7/559.7/602.1/626/630,
      618.2/454.9/497.7/522/549/592.6/616.2/620,
      632.4/465.6/515.6/541.3/576.4/623.9/648.3/652,
      646.9/476.3/519.9/544.3/581.1/626/653.8/656} {
    \draw[bk] (432,\yy) -- (\xl,\yy);
    \dAAA{\xa}{\yy}{26} \dABC{\xb}{\yy}{31} \dTM{\xc}{\yy} \dAAA{\xd}{\yy}{26} \dABC{\xe}{\yy}{31} \dTM{\xf}{\yy}
  }
  \draw[bk] (432,574.5) -- (582,574.5);
  \dABC{460.9}{574.5}{31} \dPDR{485.7}{574.5} \dAAA{514.8}{574.5}{26} \dABC{555.4}{574.5}{31} \dTM{579.8}{574.5}
  \draw[tr] (156.2,653.3) -- (170.3,653.3);
  \node[sc] (g18S) at (162.6,664) {0.1};
  \dABC{186.1}{663.9}{15} \node[lg] (g18L1) at (198.1,663.9) {ABC2\_membrane};
  \dAAA{323.9}{663.9}{14} \node[lg] (g18L2) at (335.9,663.9) {AAA};
  \dPDR{376.6}{663.9} \node[lg] (g18L3) at (385.1,663.9) {PDR\_assoc};

  % ---------- AcbA ----------
  \node[ttl] (acbT) at (717.2,512.1) {AcbA {\fontsize{12}{14}\selectfont acyl-CoA binding protein}};
  \node[lf,text=cDDB] (acb1) at (810.3,526.1) {DDB\_G0270658};
  \node[lf,text=cDLA] (acb2) at (792,540.1) {DLA\_03435};
  \node[lf,text=cPPL] (acb3) at (784.4,554.6) {PPL\_07484};
  \node[lf,text=cOPI] (acb4) at (836.2,568.8) {ACO51674};
  \node[lf,text=cDPU] (acb5) at (773.4,583.3) {DPU\_G0066066};
  \node[lf,text=cACA] (acb6) at (835.2,597.8) {XP\_004338922};
  \node[lf,text=cPPO] (acb7) at (811.6,612.6) {g33249};
  \node[lf,text=cDFA] (acb8) at (778.5,626.5) {DFA\_10565};
  \coordinate (acbA) at (752.3,540.3);
  \coordinate (acbB) at (749,576);
  \coordinate (acbC) at (739.1,558.2);
  \coordinate (acbD) at (759.2,605.2);
  \coordinate (acbE) at (733.2,615.9);
  \coordinate (acbR) at (723.8,587);
  \draw[tr] (acb1.west) -| (acbA) |- (acb3.west);
  \draw[tr] (acbA |- acb2.west) -- (acb2.west);
  \draw[tr] (acb4.west) -| (acbB) |- (acb5.west);
  \draw[tr] (acbA) -| (acbC) |- (acbB);
  \draw[tr] (acb6.west) -| (acbD) |- (acb7.west);
  \draw[tr] (acbD) -| (acbE) |- (acb8.west);
  \draw[tr] (acbC) -| (acbR) |- (acbE);
  \bpp{dR}{acbA} \bpp{dR}{acbB} \bpp{dB}{acbC} \bpp{dP}{acbD} \bpp{dB}{acbE}
  \dACBP{923.5}{526.1} \dACBP{877}{540.1} \dACBP{868}{554.6} \dACBP{915.1}{568.8}
  \dACBP{885.8}{583.3} \dACBP{944.3}{597.8} \dACBP{868.8}{612.6} \dACBP{864.2}{626.5}
  \draw[tr] (742.1,634.2) -- (762.5,634.2);
  \node[sc] (acbS) at (752.3,646.1) {0.1};
  \dACBP{781.6}{642.6} \node[lg] (acbL1) at (792.5,642.6) {ACBP};

  % ---------- AbpB ----------
  \node[ttl] (abbT) at (685.5,686.8) {AbpB};
  \node[sub] (abbU) at (685.5,700.2) {actin bundling};
  \node[sub] (abbV) at (685.5,711.7) {protein B};
  \node[lf,text=cDDB] (abb1) at (802.5,688.3) {DDB\_G0279081};
  \node[lf,text=cDLA] (abb2) at (801.2,702.8) {DLA\_01154};
  \node[lf,text=cDPU] (abb3) at (796,717.5) {DPU\_G0051748};
  \node[lf,text=cPPL] (abb4) at (800,732) {PPL\_03004};
  \node[lf,text=cDFA] (abb5) at (801.2,746.5) {DFA\_08405};
  \node[lf,text=cPPO] (abb6) at (793.3,760.7) {AAA29968};
  \node[lf,text=cACA] (abb7) at (787.5,775.2) {XP\_004333661};
  \node[lf,text=cEHI] (abb8) at (802.5,789.2) {BAN39812};
  \coordinate (abbA) at (789.3,695.6);
  \coordinate (abbB) at (786.4,706.6);
  \coordinate (abbC) at (789,739.3);
  \coordinate (abbD) at (783.2,723);
  \coordinate (abbE) at (778.5,741.9);
  \coordinate (abbF) at (765.3,758.6);
  \coordinate (abbR) at (685.5,773.9);
  \draw[tr] (abb1.west) -| (abbA) |- (abb2.west);
  \draw[tr] (abbA) -| (abbB) |- (abb3.west);
  \draw[tr] (abb4.west) -| (abbC) |- (abb5.west);
  \draw[tr] (abbB) -| (abbD) |- (abbC);
  \draw[tr] (abbD) -| (abbE) |- (abb6.west);
  \draw[tr] (abbE) -| (abbF) |- (abb7.west);
  \draw[tr] (abbF) -| (abbR) |- (abb8.west);
  \bpp{dR}{abbA} \bpp{dR}{abbB} \bpp{dP}{abbC} \bpp{dG}{abbD} \bpp{dB}{abbE} \bpp{dP}{abbF}
  \foreach \yy/\xs in {688.3/908.7,702.8/908.7,717.5/908.7,732/903.9,746.5/908.7,760.7/911.3,775.2/912.6,789.2/910}
    \draw[bk] (\xs,\yy) -- (951,\yy);
  \draw[tr] (693.4,796.3) -- (701.9,796.3);
  \node[sc] (abbS) at (697.4,808.3) {0.1};

  % ---------- AhhA ----------
  \node[ttl] (ahhT) at (708,840) {AhhA {\fontsize{12}{14}\selectfont Adducin A}};
  \node[lf,text=cPPL] (ahh1) at (810,851) {PPL\_02515};
  \node[lf,text=cDFA] (ahh2) at (798,865.5) {DFA\_01034};
  \node[lf,text=cDDB] (ahh3) at (791.5,880) {DDB\_G0282009};
  \node[lf,text=cDPU] (ahh4) at (799.5,894.2) {DPU\_G0066470};
  \node[lf,text=cDLA] (ahh5) at (794.7,908.7) {DLA\_02961};
  \node[lf,text=cEXC] (ahh6) at (810.5,923.2) {XP\_002681018};
  \coordinate (ahhA) at (748.9,858.3);
  \coordinate (ahhB) at (769.2,887.1);
  \coordinate (ahhC) at (752.9,897.9);
  \coordinate (ahhD) at (736.5,878.1);
  \coordinate (ahhR) at (711.1,900.7);
  \draw[tr] (ahh1.west) -| (ahhA) |- (ahh2.west);
  \draw[tr] (ahh3.west) -| (ahhB) |- (ahh4.west);
  \draw[tr] (ahhB) -| (ahhC) |- (ahh5.west);
  \draw[tr] (ahhA) -| (ahhD) |- (ahhC);
  \draw[tr] (ahhD) -| (ahhR) |- (ahh6.west);
  \foreach \p in {ahhA,ahhB,ahhC,ahhD} {\bpp{dP}{\p}}
  \foreach \yy/\xs/\xd in {851/911.3/927.2,865.5/911.3/927.2,880/911.3/927.2,894.2/911.3/927.2,908.7/911.3/927.2,923.2/905/931.1} {
    \draw[bk] (\xs,\yy) -- (951,\yy); \dALD{\xd}{\yy}
  }
  \draw[tr] (715.4,930.8) -- (731.7,930.8);
  \node[sc,font=\fontsize{12}{13}\selectfont] (ahhS) at (723.3,938.5) {0.1};
  \dALD{745}{937.9} \node[lg,font=\fontsize{12.5}{14}\selectfont] (ahhL1) at (756.8,937.9) {Aldolase\_II};

  % ---------- AbpC ----------
  \node[ttl] (abcT) at (152.3,749.8) {AbpC};
  \node[sub] (abcU) at (152.3,762.5) {Actin binding};
  \node[sub] (abcV) at (152.3,774.7) {protein C};
  \node[lf,text=cPPL] (abc1) at (278.3,749.1) {PPL\_01713};
  \node[lf,text=cDFA] (abc2) at (284,763.8) {DFA\_01474};
  \node[lf,text=cDDB] (abc3) at (276.6,778.5) {DDB\_G0269100};
  \node[lf,text=cDPU] (abc4) at (279.6,792.5) {DPU\_G0060312};
  \node[lf,text=cDLA] (abc5) at (284.9,807) {DLA\_04189};
  \node[lf,text=cACA] (abc6) at (253.4,821.5) {XP\_004341947};
  \node[lf,text=cPPO] (abc7) at (275.3,835.7) {Phypo\_01279};
  \node[lf,text=cEHI] (abc8) at (301.5,850.2) {XP\_657265};
  \node[lf,text=cOPI] (abc9) at (301.5,864.7) {XP\_004208382};
  \coordinate (abcA) at (259.6,756.5);
  \coordinate (abcB) at (263.5,785.5);
  \coordinate (abcC) at (253.9,771);
  \coordinate (abcD) at (248.2,789);
  \coordinate (abcE) at (195.7,805.3);
  \coordinate (abcF) at (179.5,843);
  \coordinate (abcG) at (166.3,824.2);
  \coordinate (abcR) at (151.9,844.5);
  \draw[tr] (abc1.west) -| (abcA) |- (abc2.west);
  \draw[tr] (abc3.west) -| (abcB) |- (abc4.west);
  \draw[tr] (abcA) -| (abcC) |- (abcB);
  \draw[tr] (abcC) -| (abcD) |- (abc5.west);
  \draw[tr] (abcD) -| (abcE) |- (abc6.west);
  \draw[tr] (abc7.west) -| (abcF) |- (abc8.west);
  \draw[tr] (abcE) -| (abcG) |- (abcF);
  \draw[tr] (abcG) -| (abcR) |- (abc9.west);
  \bpp{dG}{abcA} \bpp{dP}{abcB} \bpp{dR}{abcC} \bpp{dP}{abcD} \bpp{dP}{abcE} \bpp{dG}{abcF} \bpp{dP}{abcG}
  \foreach \yy in {749.1,763.8,778.5,792.5,807} {
    \draw[bk] (390,\yy) -- (512.1,\yy);
    \dCHl{396.1}{\yy} \dCHl{413.6}{\yy}
    \foreach \xx in {432,446.5,460.9,475.8,490.2,504.2} {\dIG{\xx}{\yy}}
  }
  \draw[bk] (390,821.5) -- (493.7,821.5); \dCHl{396.1}{821.5} \dCHl{413.6}{821.5}
  \foreach \xx in {432,446.5,460.9,475.8} {\dIG{\xx}{821.5}}
  \begin{scope}
    \clip (480,812) rectangle (487.5,831);
    \dIG{487.5}{821.5}
  \end{scope}
  \draw[bk] (390,835.7) -- (503.4,835.7); \dCHl{396.1}{835.7} \dCHl{413.6}{835.7}
  \foreach \xx in {432,446.5,460.9,475.8} {\dIG{\xx}{835.7}}
  \draw[bk] (390,850.2) -- (506.9,850.2); \dCHl{396.1}{850.2} \dCHl{413.6}{850.2}
  \foreach \xx in {432,446.5,460.9,505.5} {\dIG{\xx}{850.2}}
  \draw[bk] (402.7,864.7) -- (520,864.7); \dCHl{411.4}{864.7} \dCHl{431.1}{864.7}
  \foreach \xx in {446.5,461.8,477.1,491.1,505.5,520} {\dIG{\xx}{864.7}}
  \node[lg,anchor=center] (abcP) at (527.8,864.7) {+};
  \dIG{539.2}{864.7}
  \node[lg,font=\fontsize{12}{13}\selectfont] (abcX) at (547,864.7) {x 19};
  \draw[tr] (157.6,871.8) -- (171.6,871.8);
  \node[sc] (abcS) at (164.1,883.3) {0.1};
  \dCHl{186}{883} \node[lg] (abcL1) at (196.1,883) {CH};
  \dIG{238.5}{883} \node[lg] (abcL2) at (248.6,883) {IG\_FLMN};

  % ---------- AbpD ----------
  \node[ttl] (abdT) at (149.6,920) {AbpD};
  \node[sub] (abdU) at (149.6,935.3) {Interaptin};
  \node[lf,text=cPPL] (abd1) at (247.6,923.1) {PPL\_04640};
  \node[lf,text=cDFA] (abd2) at (248.8,937.3) {DFA\_03151};
  \node[lf,text=cDLA] (abd3) at (251.5,951.8) {DLA\_07252};
  \node[lf,text=cDDB] (abd4) at (219.6,966.3) {DDB\_G0287291};
  \node[lf,text=cDPU] (abd5) at (234,980.5) {DPU1258246};
  \node[lf,text=cPPO] (abd6) at (224,995) {Ppo015028};
  \node[lf,text=cACA] (abd7) at (218.8,1009.5) {XP\_004335395};
  \node[lf,text=cEHI] (abd8) at (251.5,1023.7) {XP\_657286};
  \coordinate (abdA) at (236.1,930.2);
  \coordinate (abdB) at (222.5,941);
  \coordinate (abdC) at (212.2,960.8);
  \coordinate (abdD) at (191.4,977.9);
  \coordinate (abdE) at (163.5,993.7);
  \coordinate (abdR) at (150.3,1008.7);
  \draw[tr] (abd1.west) -| (abdA) |- (abd2.west);
  \draw[tr] (abdA) -| (abdB) |- (abd3.west);
  \draw[tr] (abdB) -| (abdC) |- (abd5.west);
  \draw[tr] (abdC |- abd4.west) -- (abd4.west);
  \draw[tr] (abdC) -| (abdD) |- (abd6.west);
  \draw[tr] (abdD) -| (abdE) |- (abd7.west);
  \draw[tr] (abdE) -| (abdR) |- (abd8.west);
  \foreach \p in {abdA,abdB,abdC,abdD,abdE} {\bpp{dP}{\p}}
  \foreach \yy/\xa/\xb/\xe/\t in {923.1/339/356.9/536.4/1,937.3/341/360.9/502.5/1,951.8/338.2/356.1/538.4/0,966.3/339/356.9/577.5/1,980.5/342.2/360.1/558.3/1,995/337/352.9/559.5/1,1009.5/342.2/362.9/535.6/0,1023.7/338.2/354.9/529.2/0} {
    \draw[bk] (331,\yy) -- (\xe,\yy);
    \dCHr{\xa}{\yy} \dCHr{\xb}{\yy}
    \ifnum\t=1 \dTM{\xe}{\yy} \fi
  }
  \draw[tr] (162.7,1030.6) -- (169.5,1030.6);
  \node[sc] (abdS) at (163.5,1038.2) {0.1};
  \dCHr{189.4}{1037} \node[lg] (abdL1) at (198.6,1037) {CH};

  % ---------- Alg9 ----------
  \node[ttl] (al9T) at (628,972) {Alg9 {\fontsize{12}{14}\selectfont Asparagine-linked glycosylation}};
  \node[lf,text=cDFA] (al91) at (729.5,989) {DFA\_11809};
  \node[lf,text=cPPL] (al92) at (702.5,1003) {PPL\_02711};
  \node[lf,text=cDDB] (al93) at (727.5,1018) {DDB\_G0279349};
  \node[lf,text=cDPU] (al94) at (726.5,1032) {DPU\_G0063556};
  \node[lf,text=cDLA] (al95) at (762.5,1046) {DLA\_11391};
  \node[lf,text=cPPO] (al96) at (762.5,1061) {Ppo012567};
  \node[lf,text=cACA] (al97) at (756.5,1075) {XP\_004352879};
  \node[lf,text=cEXC] (al98) at (761.5,1090) {XP\_002679348};
  \coordinate (al9A) at (669,996);
  \coordinate (al9B) at (722,1025);
  \coordinate (al9C) at (700,1035.5);
  \coordinate (al9D) at (662,1015.8);
  \coordinate (al9E) at (645,1038.4);
  \coordinate (al9F) at (637,1056.7);
  \coordinate (al9R) at (630,1073.4);
  \draw[tr] (al91.west) -| (al9A) |- (al92.west);
  \draw[tr] (al93.west) -| (al9B) |- (al94.west);
  \draw[tr] (al9B) -| (al9C) |- (al95.west);
  \draw[tr] (al9A) -| (al9D) |- (al9C);
  \draw[tr] (al9D) -| (al9E) |- (al96.west);
  \draw[tr] (al9E) -| (al9F) |- (al97.west);
  \draw[tr] (al9F) -| (al9R) |- (al98.west);
  \bpp{dR}{al9A} \bpp{dP}{al9B} \bpp{dP}{al9D} \bpp{dP}{al9F}
  \foreach \yy/\xs/\ga/\gb in {989/808/868/935,1003/780/862/935,1018/835/868/938,1032/835/866/937,1046/840/862/934,1061/840/862/930,1075/862/862/928,1090/862/866/938} {
    \draw[bk] (\xs,\yy) -- (950,\yy); \dGLY{\ga}{\gb}{\yy}
  }
  \draw[tr] (633,1097) -- (641,1097);
  \node[sc] (al9S) at (637,1107) {0.1};
  \dGLY{652}{664}{1107} \node[lg,font=\fontsize{12.5}{14}\selectfont] (al9L1) at (668,1107) {Glyco\_transf\_22};

  % ---------- AcaA ----------
  \node[ttl] (acaT) at (148,1108) {AcaA {\fontsize{12}{14}\selectfont Adenylate cyclase A}};
  \node[lf,text=cPPL] (aca1) at (255.5,1122) {PPL\_12370};
  \node[lf,text=cPPL] (aca2) at (281.5,1136) {PPL\_10658};
  \node[lf,text=cPPL] (aca3) at (224.5,1151) {PPL\_01657};
  \node[lf,text=cDLA] (aca4) at (222.5,1165) {DLA\_04041};
  \node[lf,text=cDFA] (aca5) at (225.5,1180) {DFA\_04345};
  \node[lf,text=cDDB] (aca6) at (247.5,1194) {DDB\_G0281545};
  \node[lf,text=cDPU] (aca7) at (249.5,1208) {DPU\_G0071214};
  \node[lf,text=cPPO] (aca8) at (265.5,1223) {g16922};
  \node[lf,text=cPRO] (aca9) at (281.5,1237) {YP\_003673867};
  \coordinate (acaA) at (216,1129);
  \coordinate (acaB) at (208,1140);
  \coordinate (acaC) at (205,1152.5);
  \coordinate (acaD) at (196,1166);
  \coordinate (acaE) at (240,1201);
  \coordinate (acaF) at (190,1183.5);
  \coordinate (acaI) at (188,1230);
  \coordinate (acaR) at (150,1206.8);
  \draw[tr] (aca1.west) -| (acaA) |- (aca2.west);
  \draw[tr] (acaA) -| (acaB) |- (aca3.west);
  \draw[tr] (acaB) -| (acaC) |- (aca4.west);
  \draw[tr] (acaC) -| (acaD) |- (aca5.west);
  \draw[tr] (aca6.west) -| (acaE) |- (aca7.west);
  \draw[tr] (acaD) -| (acaF) |- (acaE);
  \draw[tr] (aca8.west) -| (acaI) |- (aca9.west);
  \draw[tr] (acaF) -| (acaR) |- (acaI);
  \bpp{dG}{acaA} \bpp{dR}{acaB} \bpp{dR}{acaC} \bpp{dP}{acaD} \bpp{dP}{acaE} \bpp{dP}{acaI}
  \foreach \yy/\ta/\ca/\tb/\cb/\xe in {1122/410/455/485/532/560,1136/405/450/483/528/556,1151/403/450/482/530/558,1165/400/446/480/528/556,1180/405/452/485/533/561,1194/410/458/490/540/568,1208/410/458/490/540/568,1223/388/432/462/512/540} {
    \draw[bk] ({\ta-4},\yy) -- (\xe,\yy);
    \tmcl{\ta}{8}{\yy} \dCYC{\ca}{\yy}{30} \tmcl{\tb}{8}{\yy} \dCYC{\cb}{\yy}{32}
  }
  \draw[bk] (384,1237) -- (440,1237); \tmcl{388}{7}{1237} \dCYC{425}{1237}{26}
  \draw[tr] (157,1243) -- (166,1243);
  \node[sc] (acaS) at (162,1253) {0.1};
  \dCYC{187}{1251}{18} \node[lg,font=\fontsize{12.5}{14}\selectfont] (acaL1) at (199,1251) {cyclase};

  % ---------- AlrA ----------
  \node[ttl] (alrT) at (632,1148) {AlrA {\fontsize{12}{14}\selectfont Aldehyde reductase}};
  \node[lf,text=cPPL] (alr1) at (807.5,1156) {PPL\_01795};
  \node[lf,text=cDLA] (alr2) at (792.5,1170) {DLA\_06393};
  \node[lf,text=cDFA] (alr3) at (789.5,1185) {DFA\_04854};
  \node[lf,text=cDPU] (alr4) at (726.5,1199) {DPU\_G0056350};
  \node[lf,text=cDDB] (alr5) at (709.5,1214) {DDB\_G0293850};
  \node[lf,text=cSAR] (alr6) at (819.5,1228) {EMS12060a};
  \node[lf,text=cEXC] (alr7) at (788.5,1243) {XP\_002668932};
  \node[lf,text=cPPO] (alr8) at (805.5,1257) {Phypo\_12831};
  \coordinate (alrA) at (785,1163);
  \coordinate (alrB) at (757,1174);
  \coordinate (alrC) at (700,1206.5);
  \coordinate (alrD) at (662,1190);
  \coordinate (alrE) at (650,1209);
  \coordinate (alrF) at (642,1226);
  \coordinate (alrR) at (634,1241.5);
  \draw[tr] (alr1.west) -| (alrA) |- (alr2.west);
  \draw[tr] (alrA) -| (alrB) |- (alr3.west);
  \draw[tr] (alr4.west) -| (alrC) |- (alr5.west);
  \draw[tr] (alrB) -| (alrD) |- (alrC);
  \draw[tr] (alrD) -| (alrE) |- (alr6.west);
  \draw[tr] (alrE) -| (alrF) |- (alr7.west);
  \draw[tr] (alrF) -| (alrR) |- (alr8.west);
  \bpp{dP}{alrB} \bpp{dP}{alrC} \bpp{dP}{alrD}
  \foreach \yy/\xs/\xb in {1156/885/946,1170/865/944,1185/862/944,1199/838/942,1214/822/942,1228/905/946,1243/895/946,1257/895/944} {
    \draw[bk] (\xs,\yy) -- (950,\yy); \dAKR{905}{\xb}{\yy}
  }
  \draw[tr] (640,1264) -- (656,1264);
  \node[sc] (alrS) at (648,1274) {0.1};
  \dAKR{665}{678}{1272} \node[lg] (alrL1) at (690,1272) {Aldo\_keto\_red};

  % ---------- AcapA/B ----------
  \node[ttl] (acpT) at (148,1300) {AcapA/B};
  \node[sub] (acpU) at (148,1320.3) {ArfGAP};
  \node[sub] (acpA) at (278,1300) {AcapA};
  \node[sub] (acpB) at (202.2,1415.7) {AcapB};
  \node[lf,text=cDDB] (acp1) at (341,1300) {DDB\_G0279649};
  \node[lf,text=cDPU] (acp2) at (338,1314) {DPU\_G0061650};
  \node[lf,text=cDLA] (acp3) at (333,1328.5) {DLA\_10412};
  \node[lf,text=cDFA] (acp4) at (343,1342.7) {DFA\_10381};
  \node[lf,text=cPPL] (acp5) at (338,1357.2) {PPL\_10258};
  \node[lf,text=cPPO] (acp6) at (319,1372) {g6753};
  \node[lf,text=cACA] (acp7) at (332,1386) {XP\_004335096};
  \node[lf,text=cEHI] (acp8) at (408,1400.4) {XP\_657354};
  \node[lf,text=cDDB] (acp9) at (268,1415.2) {DDB\_G0276395};
  \node[lf,text=cDPU] (acp10) at (260.5,1429.7) {DPU\_G0075796};
  \node[lf,text=cDLA] (acp11) at (258,1443.6) {DLA\_02469};
  \node[lf,text=cDFA] (acp12) at (258.6,1458.1) {DFA\_08542};
  \node[lf,text=cPPL] (acp13) at (266.5,1472.4) {PPL\_08797};
  \node[lf,text=cPPO] (acp14) at (248,1487.4) {g18264};
  \node[lf,text=cOPI] (acp15) at (283,1501.6) {EDL15052};
  \node[lf,text=cOPI] (acp16) at (277.5,1515.3) {NP\_001106491};
  \node[lf,text=cEHI] (acp17) at (407.5,1530.1) {XP\_653579};
  \node[lf,text=cACA] (acp18) at (258,1544.8) {XP\_004347151};
  \coordinate (acpA1) at (327,1307);
  \coordinate (acpA2) at (314.3,1317.8);
  \coordinate (acpA3) at (323,1350);
  \coordinate (acpA4) at (309.5,1333.9);
  \coordinate (acpA5) at (264.8,1353);
  \coordinate (acpA6) at (241.2,1369.5);
  \coordinate (acpA7) at (218.9,1385);
  \coordinate (acpB1) at (247.7,1422.5);
  \coordinate (acpB2) at (240.3,1433);
  \coordinate (acpB3) at (243.4,1465.3);
  \coordinate (acpB4) at (230.7,1449.2);
  \coordinate (acpB5) at (187.3,1468.3);
  \coordinate (acpC1) at (267,1508.5);
  \coordinate (acpN1) at (160.6,1446.8);
  \coordinate (acpN2) at (167.6,1537.5);
  \coordinate (acpR) at (149.7,1492.2);
  \draw[tr] (acp1.west) -| (acpA1) |- (acp2.west);
  \draw[tr] (acpA1) -| (acpA2) |- (acp3.west);
  \draw[tr] (acp4.west) -| (acpA3) |- (acp5.west);
  \draw[tr] (acpA2) -| (acpA4) |- (acpA3);
  \draw[tr] (acpA4) -| (acpA5) |- (acp6.west);
  \draw[tr] (acpA5) -| (acpA6) |- (acp7.west);
  \draw[tr] (acpA6) -| (acpA7) |- (acp8.west);
  \draw[tr] (acp9.west) -| (acpB1) |- (acp10.west);
  \draw[tr] (acpB1) -| (acpB2) |- (acp11.west);
  \draw[tr] (acp12.west) -| (acpB3) |- (acp13.west);
  \draw[tr] (acpB2) -| (acpB4) |- (acpB3);
  \draw[tr] (acpB4) -| (acpB5) |- (acp14.west);
  \draw[tr] (acp15.west) -| (acpC1) |- (acp16.west);
  \draw[tr] (acpA7) -| (acpN1) |- (acpC1);
  \draw[tr] (acpN1 |- acpB5) -- (acpB5);
  \draw[tr] (acp17.west) -| (acpN2) |- (acp18.west);
  \draw[tr] (acpN1) -| (acpR) |- (acpN2);
  \foreach \p in {acpA1,acpA3,acpA4,acpA5,acpA6,acpA7,acpB1,acpB2,acpB3,acpB4,acpC1} {\bpp{dP}{\p}}
  \bpp{dR}{acpA2} \bpp{dB}{acpB5} \bpp{dB}{acpN1} \bpp{dB}{acpN2}
  % AcapA domains
  \foreach \yy/\xs/\xe/\xa/\xb/\xc/\xd in {1300/450.8/639/490.2/516.5/542.7/558,1314/446.4/630.3/485.8/514.3/536.2/552.4,1328.5/446.4/621.5/481.5/506.9/533.1/549.3,1342.7/446.4/625.9/488/512.1/536.2/553.7,1357.2/446.4/632.5/490.2/515.6/537.5/553.7} {
    \draw[bk] (\xs,\yy) -- (\xe,\yy);
    \dBAR{\xa}{\yy} \dPH{\xb}{\yy} \dARF{\xc}{\yy} \dANK{\xd}{\yy} \dANK{\xd+4.4}{\yy}
  }
  \draw[bk] (446.4,1372) -- (610.6,1372); \dBAR{463.1}{1372} \dPH{488.9}{1372} \dARF{503.4}{1372} \dANK{518.7}{1372} \dANK{523.1}{1372} \dANK{527.5}{1372}
  \draw[bk] (446.4,1386) -- (632.5,1386); \dPH{488.9}{1386} \dARF{511.2}{1386} \dANK{528.7}{1386} \dANK{533.1}{1386}
  \draw[bk] (488,1400.4) -- (594.4,1400.4); \dPH{527.4}{1400.4} \dARF{546.3}{1400.4} \dANK{571.2}{1400.4}
  % AcapB domains
  \draw[bk] (380.8,1415.2) -- (499,1415.2); \dBAR{398.3}{1415.2} \dPH{429.8}{1415.2} \dARF{468.3}{1415.2} \foreach \k in {0,...,3} {\dANK{480+4.4*\k}{1415.2}}
  \draw[bk] (380.8,1429.7) -- (489.4,1429.7); \dBAR{396.1}{1429.7} \dPH{428.1}{1429.7} \dARF{457.4}{1429.7} \foreach \k in {0,...,3} {\dANK{470+4.4*\k}{1429.7}}
  \draw[bk] (380.8,1443.6) -- (489.4,1443.6); \dBAR{399.2}{1443.6} \dPH{431.1}{1443.6} \dARF{457.4}{1443.6} \foreach \k in {0,...,3} {\dANK{470+4.4*\k}{1443.6}}
  \draw[bk] (380.8,1458.1) -- (489.4,1458.1); \dPH{434.6}{1458.1} \dARF{457.4}{1458.1} \foreach \k in {0,...,3} {\dANK{470+4.4*\k}{1458.1}}
  \draw[bk] (380.8,1472.4) -- (483.7,1472.4); \dPH{428.9}{1472.4} \dARF{453}{1472.4} \foreach \k in {0,...,2} {\dANK{469.2+4.4*\k}{1472.4}}
  \draw[bk] (380.8,1487.4) -- (483.7,1487.4); \dBAR{399.6}{1487.4} \dPH{428.9}{1487.4} \dARF{450.8}{1487.4} \foreach \k in {0,...,2} {\dANK{470.5+4.4*\k}{1487.4}}
  \draw[bk] (380.8,1501.6) -- (478,1501.6); \dPH{423.7}{1501.6} \dARF{444.3}{1501.6} \foreach \k in {0,...,2} {\dANK{457.4+4.4*\k}{1501.6}}
  \draw[bk] (378.6,1515.3) -- (496.8,1515.3); \dPH{423.7}{1515.3} \dARF{444.3}{1515.3} \foreach \k in {0,...,2} {\dANK{481.5+4.4*\k}{1515.3}}
  \draw[bk] (485,1530.1) -- (571.2,1530.1); \dARF{542.7}{1530.1} \dANK{556.8}{1530.1} \dANK{561.2}{1530.1}
  \draw[bk] (378.6,1544.8) -- (502.5,1544.8); \dPH{424.6}{1544.8} \dARF{448.6}{1544.8} \foreach \k in {0,...,2} {\dANK{459.6+4.4*\k}{1544.8}}
  \draw[tr] (177.3,1552.4) -- (188.2,1552.4);
  \node[sc] (acpS) at (179.5,1563) {0.1};
  \dBAR{212.3}{1563} \node[lg] (acpL1) at (228.5,1563) {BAR};
  \dPH{274.9}{1563} \node[lg] (acpL2) at (288.9,1563) {PH};
  \dARF{321.7}{1563} \node[lg] (acpL3) at (332.7,1563) {ArfGap};
  \dANK{388.7}{1563} \node[lg] (acpL4) at (396.1,1563) {ANK};

  % ---------- AlxA ----------
  \node[ttl] (alxT) at (600,1424) {AlxA};
  \node[sub] (alxU) at (600,1451) {ALG-2 interacting};
  \node[sub] (alxV) at (600,1466) {protein};
  \node[lf,text=cDDB] (alx1) at (730.5,1427) {DDB\_G0275451};
  \node[lf,text=cDPU] (alx2) at (727.5,1442) {DPU\_G0067958};
  \node[lf,text=cDLA] (alx3) at (727.5,1456) {DLA\_04790};
  \node[lf,text=cDFA] (alx4) at (720.5,1471) {DFA\_09406};
  \node[lf,text=cPPL] (alx5) at (723.5,1485) {PPL\_12183};
  \node[lf,text=cPPO] (alx6) at (715.5,1499) {Ppo013887};
  \node[lf,text=cACA] (alx7) at (715.5,1513) {ELR18768};
  \node[lf,text=cOPI] (alx8) at (707.5,1528) {XP\_001637858};
  \node[lf,text=cEHI] (alx9) at (730.5,1543) {XP\_652992};
  \coordinate (alxA) at (722,1434.5);
  \coordinate (alxB) at (713,1445.3);
  \coordinate (alxC) at (713,1478);
  \coordinate (alxX) at (703,1461.6);
  \coordinate (alxY) at (668.8,1480.3);
  \coordinate (alxZ) at (657.9,1496.7);
  \coordinate (alxW) at (639,1512.3);
  \coordinate (alxR) at (603,1527.7);
  \draw[tr] (alx1.west) -| (alxA) |- (alx2.west);
  \draw[tr] (alxA) -| (alxB) |- (alx3.west);
  \draw[tr] (alx4.west) -| (alxC) |- (alx5.west);
  \draw[tr] (alxB) -| (alxX) |- (alxC);
  \draw[tr] (alxX) -| (alxY) |- (alx6.west);
  \draw[tr] (alxY) -| (alxZ) |- (alx7.west);
  \draw[tr] (alxZ) -| (alxW) |- (alx8.west);
  \draw[tr] (alxW) -| (alxR) |- (alx9.west);
  \bpp{dP}{alxA} \bpp{dP}{alxB} \bpp{dP}{alxX} \bpp{dR}{alxY} \bpp{dR}{alxZ} \bpp{dP}{alxW}
  \foreach \yy/\xs/\xb in {1427/835/862,1442/835/860,1456/812/858,1471/800/862,1485/800/860,1499/800/864,1513/790/862,1528/830/866,1543/800/870} {
    \draw[bk] (\xs,\yy) -- (905,\yy); \dBRO{\xb}{\yy}{52}
  }
  \draw[tr] (614,1550) -- (622,1550);
  \node[sc] (alxS) at (618,1558) {0.1};
  \dBRO{662}{1556}{12} \node[lg] (alxL1) at (672,1557) {BRO1};
\end{tikzpicture}
\end{document}
